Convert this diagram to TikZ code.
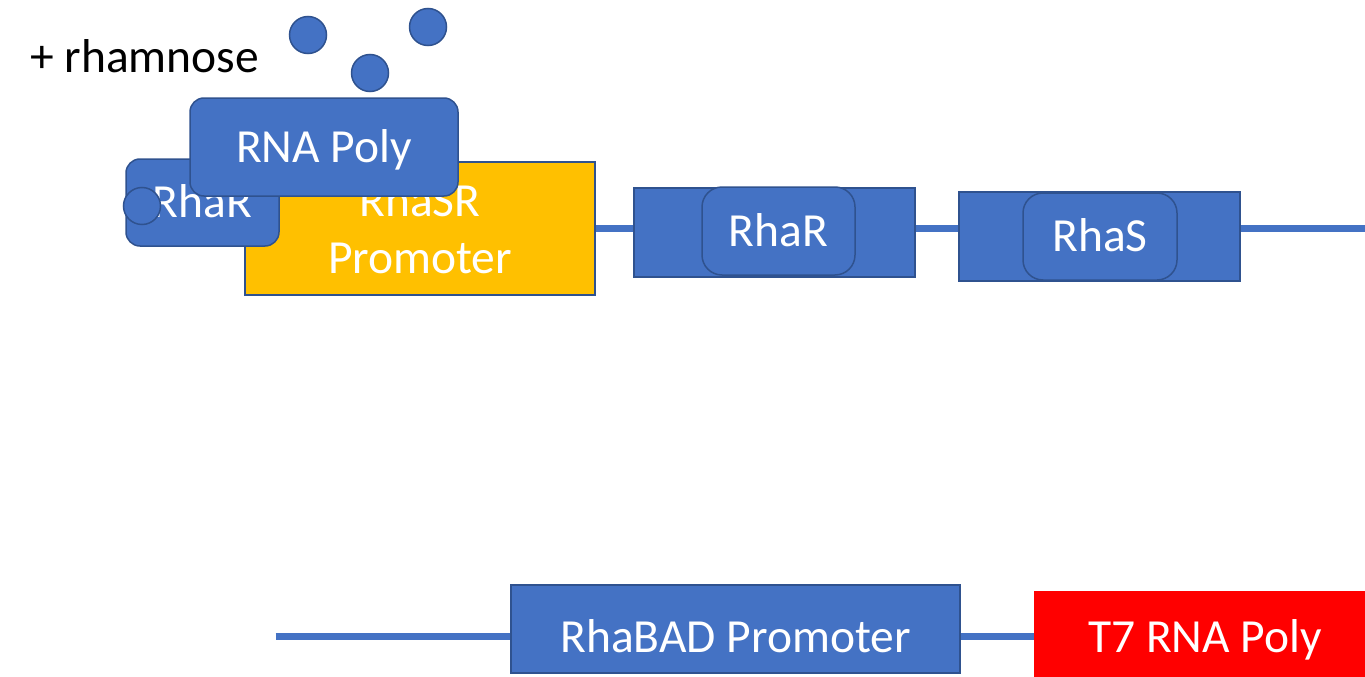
\documentclass[tikz,border=0pt]{standalone}
\usepackage{fontspec}
\setmainfont{Carlito}
\usetikzlibrary{backgrounds}
\definecolor{obl}{HTML}{4472C4}
\definecolor{obd}{HTML}{2F528F}
\definecolor{oyel}{HTML}{FFC000}
\definecolor{ored}{HTML}{FF0000}
\tikzset{
  lbl/.style={font=\fontsize{47.5}{57}\selectfont, text=white},
  bluebox/.style={draw=obd, line width=1.5pt, fill=obl, inner sep=0pt, lbl, text height=30.6pt, text depth=0pt},
  roundbox/.style={bluebox, rounded corners=14pt},
  genebox/.style={draw=obd, line width=1.5pt, fill=obl, inner sep=0pt},
  sugar/.style={circle, draw=obd, line width=1.5pt, fill=obl, minimum size=37pt, inner sep=0pt},
  dna/.style={draw=obl, line width=7pt},
}
\begin{document}
\begin{tikzpicture}[x=1pt,y=-1pt]
\useasboundingbox (0,0) rectangle (1365,677);
\clip (0,0) rectangle (1365,677);
% text
\node[anchor=base west, inner sep=0pt, font=\fontsize{47.5}{57}\selectfont] (rham) at (30,73) {+ rhamnose};
% rhamnose molecules
\node[sugar] (s1) at (308,35) {};
\node[sugar] (s2) at (428,27) {};
\node[sugar] (s3) at (370,73) {};
% coordinates for free line ends
\coordinate (topend) at (1365,228.5);
\coordinate (botstart) at (275.5,636);
% gene boxes
\node[genebox, minimum width=281pt, minimum height=89pt] (g1) at (774.5,232.5) {};
\node[genebox, minimum width=281pt, minimum height=89pt] (g2) at (1099.5,236.5) {};
\node[roundbox, rounded corners=20pt, minimum width=153pt, minimum height=88pt] (rhar2) at (778.5,231) {RhaR};
\node[roundbox, rounded corners=20pt, minimum width=154pt, minimum height=87pt] (rhas) at (1100,236.5) {RhaS};
% promoter RhaSR
\node[draw=obd, line width=1.5pt, fill=oyel, minimum width=350pt, minimum height=133pt, inner sep=0pt, lbl, align=center] (yel) at (420,228.5) {RhaSR\\Promoter};
% bound RhaR
\node[roundbox, minimum width=153pt, minimum height=87pt] (rhar1) at (202.5,202.5) {RhaR};
\node[sugar] (s4) at (142,206) {};
% RNA polymerase
\node[roundbox, minimum width=268pt, minimum height=98pt] (rnap) at (324,147) {RNA Poly};
% bottom construct
\node[genebox, lbl, minimum width=449pt, minimum height=88pt, text height=46.6pt, text depth=0pt] (bad) at (735.5,629) {RhaBAD Promoter};
\node[fill=ored, inner sep=0pt, minimum width=342pt, minimum height=92pt, lbl, text height=30.6pt, text depth=0pt] (t7) at (1205,637) {T7 RNA Poly};
% DNA lines
\begin{pgfonlayer}{background}
\draw[dna] (yel.east) -- (yel.east -| g1.west);
\draw[dna] (g1.east |- yel.east) -- (g2.west |- yel.east);
\draw[dna] (g2.east |- yel.east) -- (topend);
\draw[dna] (botstart) -- (botstart -| bad.west);
\draw[dna] (bad.east |- botstart) -- (t7.west |- botstart);
\end{pgfonlayer}
\end{tikzpicture}
\end{document}
